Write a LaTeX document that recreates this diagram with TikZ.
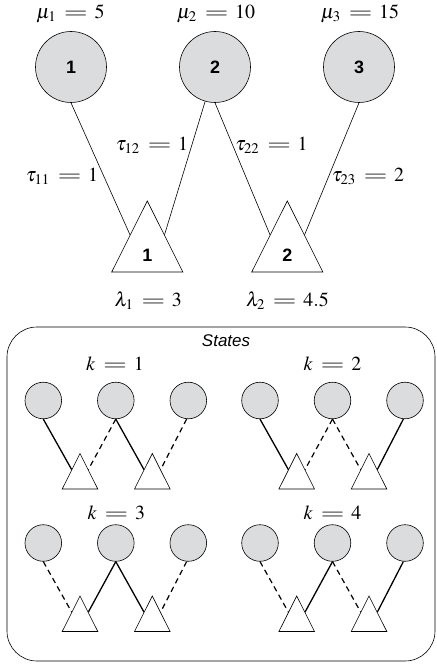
\documentclass[tikz,border=0pt]{standalone}
\usepackage{mathptmx}
\usepackage{graphicx}
\usepackage{fontspec}
\setsansfont{Liberation Sans}
\definecolor{cgray}{RGB}{219,220,222}
\newcommand{\weq}{\mathrel{\mkern3mu\scalebox{1.55}[1.0]{$=$}\mkern2mu}}
\tikzset{
  bigc/.style={circle, draw, fill=cgray, minimum size=71bp, inner sep=0pt, line width=0.6pt,
    font=\sffamily\bfseries\fontsize{18}{20}\selectfont},
  smallc/.style={circle, draw, fill=cgray, minimum size=36.6bp, inner sep=0pt, line width=0.6pt},
  bigtri/.style={draw, fill=white, line width=0.6pt, line join=miter},
  smalltri/.style={draw, fill=white, line width=0.6pt, line join=miter},
  lab/.style={font=\fontsize{20}{24}\selectfont, inner sep=0pt, anchor=base},
  trinum/.style={font=\sffamily\bfseries\fontsize{18}{20}\selectfont, inner sep=0pt, anchor=base},
  thin/.style={line width=0.6pt},
  sld/.style={line width=1.3pt},
  dsh/.style={line width=1.2pt, dash pattern=on 5.5bp off 4bp},
}
\newcommand{\stategroup}[7]{%
  \node[smallc] (#1c1) at (#2,#3) {};
  \node[smallc] (#1c2) at ({#2+72.5},#3) {};
  \node[smallc] (#1c3) at ({#2+145},#3) {};
  \coordinate (#1t1) at ({#2+36.7},{#3+53});
  \coordinate (#1t2) at ({#2+109},{#3+53});
  \coordinate (#1l1) at ({#2+36.7-8.2},{#3+69.3});
  \coordinate (#1r1) at ({#2+36.7+8.2},{#3+69.3});
  \coordinate (#1l2) at ({#2+109-8.2},{#3+69.3});
  \coordinate (#1r2) at ({#2+109+8.2},{#3+69.3});
  \draw[#4] (#1c1.south) -- (#1l1);
  \draw[#5] (#1c2.south) -- (#1r1);
  \draw[#6] (#1c2.south) -- (#1l2);
  \draw[#7] (#1c3.-95) -- (#1r2);
  \draw[smalltri] (#1t1) -- ++(-17.8,35.5) -- ++(35.6,0) -- cycle;
  \draw[smalltri] (#1t2) -- ++(-17.8,35.5) -- ++(35.6,0) -- cycle;
}
\begin{document}
\begin{tikzpicture}[x=1bp,y=-1bp]
\useasboundingbox (0,0) rectangle (437,666);
% top part
\node[bigc] (c1) at (71,67) {1};
\node[bigc] (c2) at (215,67) {2};
\node[bigc] (c3) at (359,67) {3};
\node[lab] (mu1) at (70.5,18.5) {$\mu_1 \weq 5$};
\node[lab] (mu2) at (216,18.5) {$\mu_2 \weq 10$};
\node[lab] (mu3) at (360,18.5) {$\mu_3 \weq 15$};
\coordinate (t1) at (147.3,201);
\coordinate (t2) at (287.3,201);
\coordinate (t1l) at (130.3,235.5);
\coordinate (t1r) at (164.3,235.5);
\coordinate (t2l) at (270.3,235.5);
\coordinate (t2r) at (304.3,235.5);
\draw[thin] (c1.south) -- (t1l);
\draw[thin] (c2.-106) -- (t1r);
\draw[thin] (c2.south) -- (t2l);
\draw[thin] (c3.south) -- (t2r);
\draw[bigtri] (t1) -- ++(-35.6,71) -- ++(71.2,0) -- cycle;
\draw[bigtri] (t2) -- ++(-35.6,71) -- ++(71.2,0) -- cycle;
\node[trinum] (n1) at (147.3,261.7) {1};
\node[trinum] (n2) at (287.3,261.7) {2};
\node[lab] (tau11) at (62,181.7) {$\tau_{11} \weq 1$};
\node[lab] (tau12) at (152,150) {$\tau_{12} \weq 1$};
\node[lab] (tau22) at (271.5,150) {$\tau_{22} \weq 1$};
\node[lab] (tau23) at (368,181.7) {$\tau_{23} \weq 2$};
\node[lab] (lam1) at (148.3,306.7) {$\lambda_1 \weq 3$};
\node[lab] (lam2) at (287.5,306.7) {$\lambda_2 \weq 4.5$};
% states box
\node[draw, line width=0.6pt, rounded corners=30bp, minimum width=428bp, minimum height=334bp, inner sep=0pt] (box) at (221,494) {};
\node[inner sep=0pt, anchor=base, font=\sffamily\itshape\fontsize{17}{20}\selectfont] (states) at (226,346.7) {States};
\node[lab] (k1) at (115,370.7) {$k \weq 1$};
\node[lab] (k2) at (332.5,370.7) {$k \weq 2$};
\node[lab] (k3) at (116.3,519.3) {$k \weq 3$};
\node[lab] (k4) at (332.5,519.3) {$k \weq 4$};
\stategroup{a}{43.3}{400.5}{sld}{dsh}{sld}{dsh}
\stategroup{b}{260}{400.5}{sld}{dsh}{dsh}{sld}
\stategroup{c}{43.3}{543}{dsh}{sld}{sld}{dsh}
\stategroup{d}{260}{543}{dsh}{sld}{dsh}{sld}
\end{tikzpicture}
\end{document}
